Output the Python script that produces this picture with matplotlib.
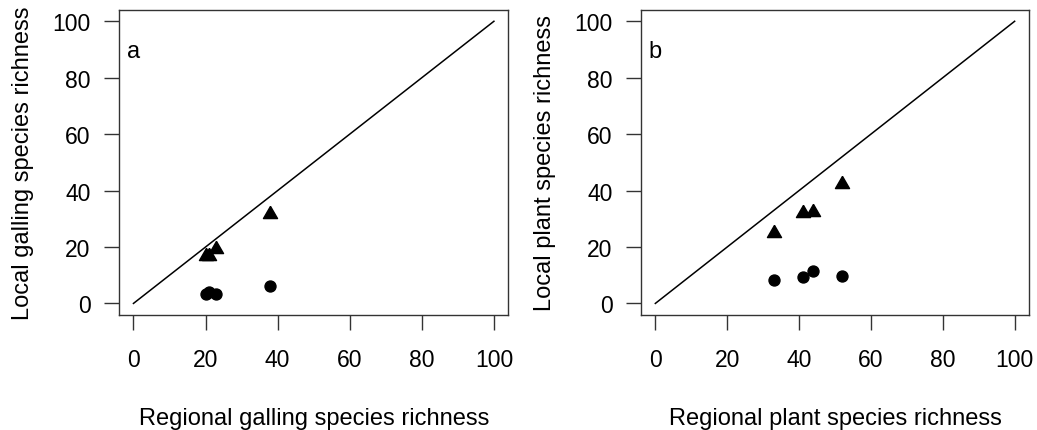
import matplotlib
matplotlib.use("Agg")
import matplotlib.pyplot as plt

plt.rcParams['font.family'] = ['Liberation Sans', 'DejaVu Sans']
plt.rcParams['font.size'] = 17

# panel a: galling species
gall_regional_tri = [20, 21, 23, 38]
gall_local_tri = [16.8, 16.8, 19.3, 31.6]
gall_regional_dot = [20, 21, 23, 38]
gall_local_dot = [3.3, 4.1, 3.3, 6.2]

# panel b: plant species
plant_regional_tri = [33, 41, 44, 52]
plant_local_tri = [24.9, 32.0, 32.5, 42.3]
plant_regional_dot = [33, 41, 44, 52]
plant_local_dot = [8.3, 9.3, 11.5, 9.7]

ticks = [0, 20, 40, 60, 80, 100]

# R style pch=17 triangle (centred on centroid)
tri = [(0, 1.555), (1.347, -0.778), (-1.347, -0.778), (0, 1.555)]

fig = plt.figure(figsize=(10.37, 4.31), dpi=100)
ax1 = fig.add_axes([0.1148, 0.2675, 0.3754, 0.707])
ax2 = fig.add_axes([0.6181, 0.2675, 0.3742, 0.707])

panels = [
    (ax1, gall_regional_tri, gall_local_tri, gall_regional_dot, gall_local_dot, 'a',
     'Regional galling species richness', 'Local galling species richness'),
    (ax2, plant_regional_tri, plant_local_tri, plant_regional_dot, plant_local_dot, 'b',
     'Regional plant species richness', 'Local plant species richness'),
]

for ax, xt, yt, xd, yd, letter, xlab, ylab in panels:
    ax.plot([0, 100], [0, 100], color='black', lw=1.1)
    ax.plot(xt, yt, linestyle='none', marker=tri, markersize=11.7, color='black')
    ax.plot(xd, yd, linestyle='none', marker='o', markersize=7.9, color='black')
    ax.set_xlim(-4, 104)
    ax.set_ylim(-4, 104)
    ax.set_xticks(ticks)
    ax.set_yticks(ticks)
    ax.tick_params(axis='both', direction='out', length=10.5, width=1.0,
                   color='#333333', labelsize=16.5)
    ax.tick_params(axis='x', pad=13.5)
    ax.tick_params(axis='y', pad=10)
    for s in ax.spines.values():
        s.set_linewidth(1.0)
        s.set_color('#333333')
    ax.text(-1.8, 87.5, letter, ha='left', va='baseline', fontsize=17)
    ax.set_xlabel(xlab, labelpad=26)
    ax.set_ylabel(ylab, labelpad=13)

fig.savefig('out.png', dpi=100)
